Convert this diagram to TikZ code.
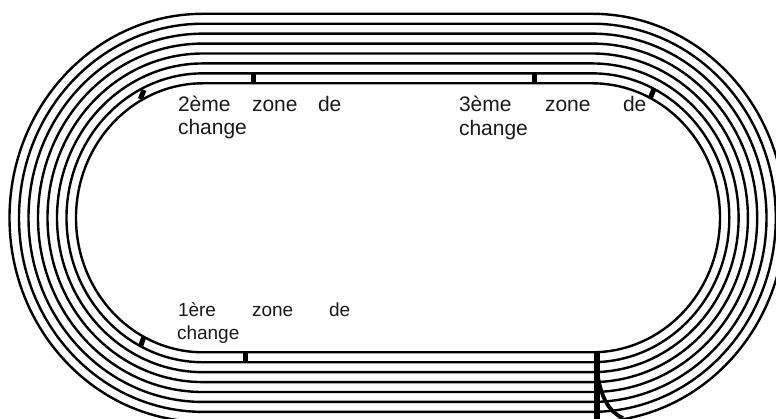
\documentclass[tikz,border=0pt]{standalone}
\usepackage{fontspec}
\setmainfont{Liberation Sans}
\tikzset{
  lane/.style={line width=2.4pt,black},
  tick/.style={line width=5pt,black},
  startline/.style={line width=5.2pt,black},
  label/.style={anchor=base west,inner sep=0pt,outer sep=0pt,text=black!90},
  big/.style={label,font=\fontsize{21}{24}\selectfont},
  small/.style={label,font=\fontsize{19}{22}\selectfont}
}
\begin{document}
\begin{tikzpicture}[x=1pt,y=1pt]
\useasboundingbox (0,0) rectangle (776,419);
\clip (0,0) rectangle (776,419);
\pgfmathsetmacro{\cy}{201.2}
\foreach \i in {0,...,7}{
  \pgfmathsetmacro{\ry}{134.5+9.93*\i}
  \pgfmathsetmacro{\rl}{127+9.5*\i}
  \pgfmathsetmacro{\rr}{128+9.3*\i}
  \draw[lane] (203,\cy+\ry) -- (592,\cy+\ry)
     arc[start angle=90,end angle=-90,x radius=\rr,y radius=\ry]
     -- (203,\cy-\ry)
     arc[start angle=270,end angle=90,x radius=\rl,y radius=\ry] -- cycle;
}
% exchange-zone marks
\draw[tick] (253,345.5) -- (253,335.5);
\draw[tick] (534,345.5) -- (534,335.5);
\draw[tick] (144,329) -- (140.3,320);
\draw[tick] (654,330) -- (650.5,321.5);
\draw[tick] (245,66.5) -- (245,56.5);
\draw[tick] (144,82.5) -- (140.7,73);
% start line
\draw[startline] (597,67) -- (597,0);
\draw[line width=3.8pt] (598,42) .. controls (601,24) and (608,7) .. (623,1);
% labels
\node[big] (a1) at (178,307.5) {2ème};
\node[big] (a2) at (252,307.5) {zone};
\node[big] (a3) at (318,307.5) {de};
\node[big] (a4) at (178,284.5) {change};
\node[big] (b1) at (459,307) {3ème};
\node[big] (b2) at (545,307) {zone};
\node[big] (b3) at (623,307) {de};
\node[big] (b4) at (459,283.5) {change};
\node[small] (c1) at (178,102) {1ère};
\node[small] (c2) at (252,102) {zone};
\node[small] (c3) at (329,102) {de};
\node[small] (c4) at (177,79) {change};
\end{tikzpicture}
\end{document}
